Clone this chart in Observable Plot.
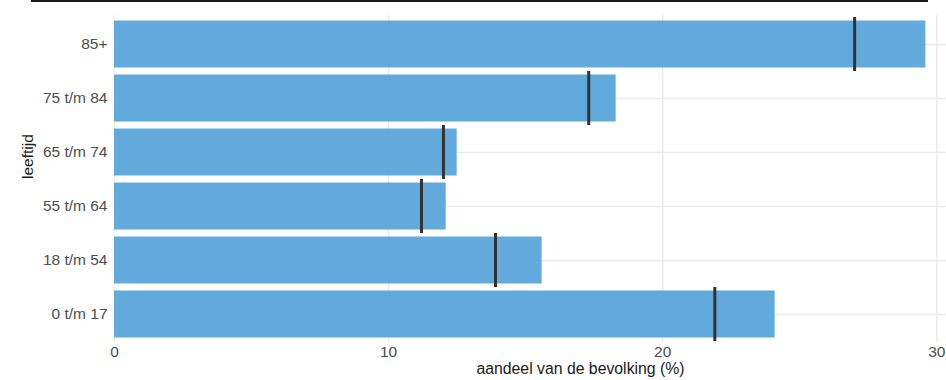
<!DOCTYPE html>
<html>
<head>
<meta charset="utf-8">
<script src="https://cdn.jsdelivr.net/npm/d3@7"></script>
<script src="https://cdn.jsdelivr.net/npm/@observablehq/plot@0.6"></script>
<style>
  html, body { margin: 0; padding: 0; background: #fff; }
  #wrap { position: relative; width: 946px; height: 380px; overflow: hidden; }
  #topline { position: absolute; left: 31px; top: 0px; width: 897px; height: 2px; background: #1a1a1a; }
</style>
</head>
<body>
<div id="wrap"><div id="topline"></div></div>
<script>
const categories = ["85+", "75 t/m 84", "65 t/m 74", "55 t/m 64", "18 t/m 54", "0 t/m 17"];
const shares = [29.6, 18.3, 12.5, 12.1, 15.6, 24.1];
const reference = [27.0, 17.3, 12.0, 11.2, 13.9, 21.9];
const xTicks = [0, 10, 20, 30];
const xLabel = "aandeel van de bevolking (%)";
const yLabel = "leeftijd";

const data = categories.map((c, i) => ({ cat: c, share: shares[i], ref: reference[i] }));

const chart = Plot.plot({
  width: 946,
  height: 380,
  marginLeft: 114,
  marginRight: -100,
  marginTop: 15,
  marginBottom: 38,
  style: { fontFamily: "'Liberation Sans', Arial, sans-serif", fontSize: "15.5px", color: "#4d4d4d", background: "#fff", overflow: "hidden" },
  x: { domain: [0, 34], ticks: xTicks },
  y: { domain: categories, paddingInner: 0, paddingOuter: 0.025 },
  marks: [
    Plot.gridX(xTicks, { stroke: "#ebebeb", strokeOpacity: 1, strokeWidth: 1.5 }),
    Plot.gridY(categories, { stroke: "#ebebeb", strokeOpacity: 1, strokeWidth: 1.5 }),
    Plot.barX(data, { x: "share", y: "cat", fill: "#62a9dc", insetTop: 3.5, insetBottom: 3.5 }),
    Plot.tickX(data, { x: "ref", y: "cat", stroke: "#333", strokeWidth: 3 }),
    Plot.axisY({ tickSize: 0, tickPadding: 7, label: null, fill: "#4d4d4d" }),
    Plot.axisX(xTicks, { tickSize: 0, tickPadding: 3, label: null, fill: "#4d4d4d" }),
    Plot.text([xLabel], { text: d => d, frameAnchor: "bottom", dy: 31, fill: "#1a1a1a", fontSize: 15.8 }),
    Plot.text([yLabel], { text: d => d, frameAnchor: "left", dx: -86, rotate: -90, fill: "#1a1a1a", fontSize: 15.5 })
  ]
});
document.getElementById("wrap").appendChild(chart);
</script>
</body>
</html>
